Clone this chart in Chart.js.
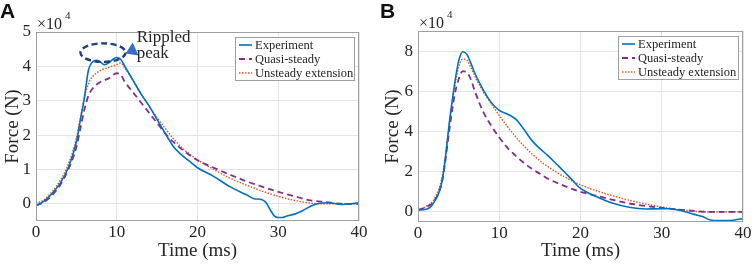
<!DOCTYPE html>
<html>
<head>
<meta charset="utf-8">
<script src="https://cdn.jsdelivr.net/npm/chart.js@4/dist/chart.umd.min.js"></script>
<style>
  html, body { margin: 0; padding: 0; background: #fff; }
  #wrap { position: relative; width: 754px; height: 267px; overflow: hidden; }
  #panel-a { position: absolute; left: 0; top: 0; }
  #panel-b { position: absolute; left: 380px; top: 0; }
</style>
</head>
<body>
<div id="wrap">
  <canvas id="panel-a" width="380" height="267"></canvas>
  <canvas id="panel-b" width="374" height="267"></canvas>
</div>
<script>
/* ─── Data (force in units of 1e4 N, time in ms) ───────────────────────── */
const SERIES_LABELS = ['Experiment', 'Quasi-steady', 'Unsteady extension'];
const X_TICKS = [0, 10, 20, 30, 40];
const Y_TICKS_A = [0, 1, 2, 3, 4, 5];
const Y_TICKS_B = [0, 2, 4, 6, 8];

// Panel A
const A_EXP_T = [0,1,2,3,4,5,5.5,6,6.5,7,7.5,8,8.5,9,9.5,10,10.5,11,12,13,14,15,16,17,18,19,20,22,24,26,27,28,28.5,29,29.5,30,30.5,31,32,33,34,35,36,37,38,39,40];
const A_EXP_F = [-0.05,0.08,0.3,0.6,1.05,1.8,2.45,3.1,3.9,4.13,4.18,4.12,4.05,4.1,4.2,4.26,4.2,4.0,3.6,3.2,2.85,2.45,2.05,1.67,1.43,1.24,1.05,0.8,0.5,0.27,0.15,0.12,0.03,-0.17,-0.35,-0.4,-0.4,-0.36,-0.3,-0.2,-0.07,0.01,0.03,0.01,-0.02,0,0.03];
const A_QS_T  = [0,1,2,3,4,5,5.5,6,6.5,7,8,9,10,10.5,11,12,13,14,15,16,17,18,19,20,22,24,26,28,30,32,34,36,38,40];
const A_QS_F  = [-0.05,0.05,0.25,0.55,1.0,1.65,2.2,2.75,3.15,3.35,3.55,3.65,3.8,3.75,3.55,3.25,2.95,2.65,2.35,2.05,1.8,1.6,1.42,1.27,1.05,0.85,0.66,0.5,0.35,0.22,0.1,0.05,0,0];
const A_UE_T  = [0,1,2,3,4,5,5.5,6,6.5,7,8,9,10,10.5,11,12,13,14,15,16,17,18,19,20,22,24,26,28,30,32,34,35,40];
const A_UE_F  = [0,0.12,0.35,0.68,1.15,1.9,2.5,3.1,3.5,3.7,3.88,3.97,4.05,4.1,3.95,3.6,3.2,2.85,2.5,2.2,1.9,1.65,1.45,1.28,1.0,0.75,0.55,0.37,0.22,0.1,0.02,0,0];

// Panel B
const B_EXP_T = [0,1,2,3,4,4.5,5,5.5,6,6.5,7,8,9,10,11,12,13,14,15,16,17,18,19,20,22,24,26,28,30,31,32,33,34,35,36,37,38,39,40];
const B_EXP_F = [0.1,0.13,0.5,1.6,4.9,6.35,7.5,7.97,7.85,7.4,6.9,6.1,5.45,5.05,4.87,4.63,4.13,3.56,3.15,2.8,2.4,2.0,1.58,1.17,0.76,0.43,0.23,0.15,0.16,0.16,0.1,0,-0.12,-0.23,-0.4,-0.43,-0.43,-0.4,-0.33];
const B_QS_T  = [0,1,2,3,4,4.5,5,5.5,6,6.5,7,8,9,10,11,12,13,14,15,16,18,20,22,24,26,28,30,32,34,36,40];
const B_QS_F  = [0.1,0.25,0.55,1.6,4.5,5.8,6.6,7.0,6.95,6.6,6.0,5.0,4.3,3.7,3.2,2.8,2.45,2.15,1.9,1.65,1.3,1.0,0.8,0.6,0.42,0.3,0.2,0.12,0.05,0,0];
const B_UE_T  = [0,1,2,3,4,4.5,5,5.5,6,6.5,7,8,9,10,11,12,13,14,15,16,18,20,22,24,26,28,30,32,34,35,40];
const B_UE_F  = [0.1,0.28,0.65,1.8,4.8,6.2,7.2,7.6,7.55,7.2,6.75,6.0,5.4,4.8,4.25,3.75,3.3,2.9,2.55,2.25,1.75,1.35,1.05,0.8,0.58,0.4,0.25,0.12,0.04,0,0];

// "Rippled peak" marker in panel A: centre (ms, 1e4 N) and radii
const RIPPLE_CENTER = [8.3, 4.4];
const RIPPLE_RADII  = [2.8, 0.27];

/* ─── Styles ───────────────────────────────────────────────────────────── */
const SERIF = '"Liberation Serif", "Times New Roman", serif';
const INK   = '#262626';
const STYLES = [
  { color: '#0072BD', width: 1.6, dash: [] },
  { color: '#7E2F8E', width: 1.8, dash: [6, 4] },
  { color: '#D95319', width: 1.4, dash: [1.5, 1.5] }
];

const pts = (t, f) => t.map((x, i) => ({ x, y: f[i] }));

/* ─── Decorations plugin: box, legend, x10^4, panel letter, annotation ── */
const decor = {
  id: 'decor',
  afterDraw(chart, args, o) {
    const { ctx, chartArea: a } = chart;
    ctx.save();

    // axes box
    ctx.strokeStyle = '#a0a0a0';
    ctx.lineWidth = 1;
    ctx.strokeRect(a.left + 0.5, a.top + 0.5, a.width - 1, a.height - 1);

    // exponent
    ctx.fillStyle = INK;
    ctx.textBaseline = 'alphabetic';
    ctx.textAlign = 'left';
    ctx.font = `16px ${SERIF}`;
    ctx.fillText('\u00d710', a.left + 1, a.top - 3);
    ctx.font = `11px ${SERIF}`;
    ctx.fillText('4', a.left + 29, a.top - 13);

    // panel letter
    ctx.fillStyle = '#111';
    ctx.font = 'bold 21px "Liberation Sans", Arial, sans-serif';
    ctx.fillText(o.letter, 0, 18);

    // legend
    const lw = o.legendW, lh = 43;
    const lx = a.right - 5 - lw, ly = a.top + 5;
    ctx.fillStyle = '#fff';
    ctx.fillRect(lx, ly, lw, lh);
    ctx.strokeStyle = '#a0a0a0';
    ctx.strokeRect(lx + 0.5, ly + 0.5, lw, lh);
    ctx.font = `12.5px ${SERIF}`;
    ctx.textBaseline = 'middle';
    SERIES_LABELS.forEach((lab, i) => {
      const y = ly + 8 + i * 14;
      const s = STYLES[i];
      ctx.strokeStyle = s.color;
      ctx.lineWidth = s.width;
      ctx.setLineDash(s.dash);
      ctx.beginPath();
      ctx.moveTo(lx + 4, y);
      ctx.lineTo(lx + 17, y);
      ctx.stroke();
      ctx.setLineDash([]);
      ctx.fillStyle = INK;
      ctx.fillText(lab, lx + 20, y + 0.5);
    });

    // rippled peak annotation
    if (o.ripple) {
      const xs = chart.scales.x, ys = chart.scales.y;
      const cx = xs.getPixelForValue(RIPPLE_CENTER[0]);
      const cy = ys.getPixelForValue(RIPPLE_CENTER[1]);
      const rx = xs.getPixelForValue(RIPPLE_CENTER[0] + RIPPLE_RADII[0]) - cx;
      const ry = cy - ys.getPixelForValue(RIPPLE_CENTER[1] + RIPPLE_RADII[1]);
      ctx.strokeStyle = '#1f3f7f';
      ctx.lineWidth = 2.4;
      ctx.setLineDash([6, 3.5]);
      ctx.beginPath();
      ctx.ellipse(cx, cy, rx, ry, 0, 0, Math.PI * 2);
      ctx.stroke();
      ctx.setLineDash([]);

      const tx = cx + rx, ty = cy + 1;
      ctx.fillStyle = '#3b6cc7';
      ctx.beginPath();
      ctx.moveTo(tx, ty);
      ctx.lineTo(tx + 7, ty - 11);
      ctx.lineTo(tx + 13, ty + 2);
      ctx.closePath();
      ctx.fill();

      ctx.fillStyle = INK;
      ctx.font = `17px ${SERIF}`;
      ctx.textBaseline = 'alphabetic';
      ctx.fillText('Rippled', tx + 11, a.top + 10);
      ctx.fillText('peak', tx + 11, a.top + 26);
    }
    ctx.restore();
  }
};

/* ─── Panel builder ────────────────────────────────────────────────────── */
function makePanel(id, series, yTicks, yMax, layout, extra) {
  const canvas = document.getElementById(id);
  return new Chart(canvas, {
    type: 'line',
    data: {
      datasets: series.map((d, i) => ({
        label: SERIES_LABELS[i],
        data: d,
        borderColor: STYLES[i].color,
        borderWidth: STYLES[i].width,
        borderDash: STYLES[i].dash,
        pointRadius: 0,
        fill: false,
        cubicInterpolationMode: 'monotone'
      }))
    },
    options: {
      responsive: false,
      animation: false,
      events: [],
      layout: { padding: { left: 0, right: layout.right, top: layout.top, bottom: 0 } },
      plugins: {
        legend: { display: false },
        tooltip: { enabled: false },
        decor: extra
      },
      scales: {
        x: {
          type: 'linear',
          min: 0, max: 40,
          afterBuildTicks: s => { s.ticks = X_TICKS.map(v => ({ value: v })); },
          afterFit: s => { s.height = layout.xh; },
          grid: { color: '#e4e4e4', drawTicks: false },
          border: { display: false },
          ticks: { color: INK, padding: 1, font: { family: SERIF, size: 17 }, maxRotation: 0 },
          title: { display: true, text: 'Time (ms)', color: INK,
                   font: { family: SERIF, size: 19 }, padding: { top: 0, bottom: 5 } }
        },
        y: {
          min: -0.5, max: yMax,
          afterBuildTicks: s => { s.ticks = yTicks.map(v => ({ value: v })); },
          afterFit: s => { s.width = layout.yw; },
          grid: { color: '#e4e4e4', drawTicks: false },
          border: { display: false },
          ticks: { color: INK, padding: 5, font: { family: SERIF, size: 17 } },
          title: { display: true, text: 'Force (N)', color: INK,
                   font: { family: SERIF, size: 19 }, padding: { top: 2, bottom: 0 } }
        }
      }
    },
    plugins: [decor]
  });
}

makePanel('panel-a',
  [pts(A_EXP_T, A_EXP_F), pts(A_QS_T, A_QS_F), pts(A_UE_T, A_UE_F)],
  Y_TICKS_A, 5,
  { right: 21, top: 32, xh: 46, yw: 36 },
  { letter: 'A', legendW: 119, ripple: true });

makePanel('panel-b',
  [pts(B_EXP_T, B_EXP_F), pts(B_QS_T, B_QS_F), pts(B_UE_T, B_UE_F)],
  Y_TICKS_B, 9,
  { right: 11, top: 31, xh: 45, yw: 38 },
  { letter: 'B', legendW: 120, ripple: false });
</script>
</body>
</html>
